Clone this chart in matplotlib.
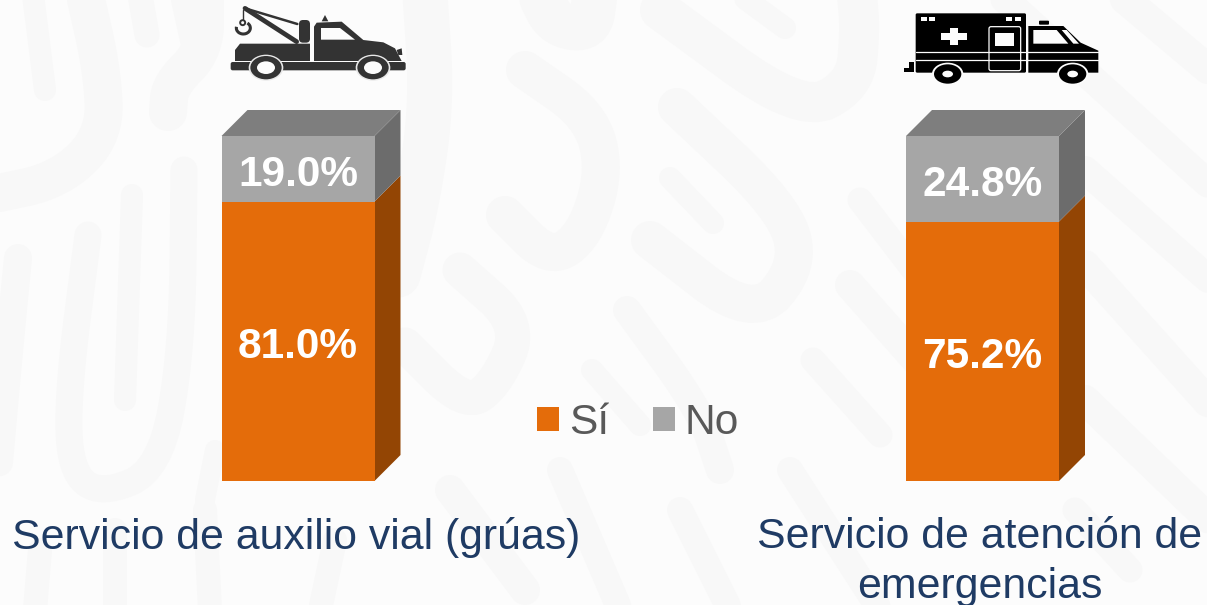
import numpy as np
import matplotlib
matplotlib.use("Agg")
import matplotlib.pyplot as plt
from matplotlib.patches import Polygon, Ellipse, FancyBboxPatch, Arc
from matplotlib.transforms import Affine2D

categories = ["Servicio de auxilio vial (grúas)", "Servicio de atención de\nemergencias"]
si_values = [81.0, 75.2]
no_values = [19.0, 24.8]
series_names = ["Sí", "No"]

ORANGE, GREY = "#E46C0A", "#A6A6A6"
ORANGE_SIDE, GREY_SIDE = "#934504", "#6C6C6C"
GREY_TOP = "#7E7E7E"
BG, MOTIF = "#FCFCFC", "#F8F8F8"
W, H = 1207, 605
plt.rcParams["font.family"] = ["Liberation Sans", "DejaVu Sans"]

fig = plt.figure(figsize=(W / 100, H / 100), dpi=100, facecolor=BG)
ax = fig.add_axes([0, 0, 1, 1])
ax.set_facecolor("none")
sx, sy = 684.5, 3.45
ax.set_xlim(-298 / sx, (W - 298) / sx)
ax.set_ylim((481 - H) / sy, 481 / sy)
ax.axis("off")
px = Affine2D().scale(1 / W, -1 / H).translate(0, 1) + ax.transAxes


def smooth(pts, n=3):
    p = np.array(pts, float)
    for _ in range(n):
        q = 0.75 * p[:-1] + 0.25 * p[1:]
        r = 0.25 * p[:-1] + 0.75 * p[1:]
        m = np.empty((2 * len(q), 2))
        m[0::2], m[1::2] = q, r
        p = np.vstack([p[0], m, p[-1]])
    return p


# faint background motif: (stroke width in px, stroke path)
motif = [
    (22, [(33, -5), (45, 90)]), (25, [(140, -5), (147, 35)]),
    (38, [(85, -5), (102, 70), (105, 135), (60, 180), (-10, 195)]),
    (38, [(205, -5), (205, 50), (170, 85), (168, 112)]), (30, [(185, -5), (195, 40)]),
    (28, [(18, 258), (10, 340), (0, 450), (-5, 510)]), (22, [(132, 195), (125, 400)]),
    (27, [(88, 235), (68, 390), (70, 470), (100, 495), (160, 470), (182, 350), (184, 170)]),
    (20, [(215, 450), (205, 500)]), (45, [(425, -5), (432, 100), (418, 200), (398, 275)]),
    (45, [(540, -5), (555, 25), (590, 30), (595, -5)]),
    (38, [(525, 70), (590, 115), (605, 170), (585, 235), (550, 260), (505, 215)]),
    (40, [(660, 10), (800, 113), (855, 85), (860, 30), (857, -5)]), (22, [(740, -5), (785, 28)]),
    (38, [(677, 107), (783, 207), (800, 265), (753, 320), (650, 240)]), (22, [(670, 178), (713, 223)]),
    (35, [(460, 270), (522, 325), (495, 385), (465, 405), (405, 345)]), (28, [(627, 310), (700, 410), (720, 470)]),
    (22, [(592, 370), (640, 425)]), (25, [(860, 200), (925, 285)]), (30, [(850, 285), (925, 370)]),
    (25, [(813, 360), (880, 435)]), (30, [(1120, -5), (1215, 75)]), (28, [(1000, -5), (1215, 190)]),
    (28, [(1085, 170), (1215, 285)]), (30, [(1085, 265), (1215, 410)]), (30, [(1085, 400), (1215, 525)]),
    (25, [(1075, 510), (1130, 570)]), (24, [(40, 550), (35, 610)]), (24, [(115, 530), (115, 610)]),
    (24, [(205, 510), (210, 610)]), (24, [(335, 540), (320, 610)]), (30, [(450, 490), (525, 590)]),
    (26, [(560, 470), (620, 610)]), (26, [(680, 510), (730, 610)]), (26, [(790, 470), (880, 610)]),
]
for lw, pts in motif:
    s = smooth(pts)
    ax.plot(s[:, 0], s[:, 1], color=MOTIF, lw=lw * 0.72, transform=px, zorder=0,
            solid_capstyle="round", solid_joinstyle="round")

# bars
x = np.arange(len(categories))
bw = 153 / sx
dx, dy = 26 / sx, 26 / sy
h1 = ax.bar(x, si_values, bw, color=ORANGE, label=series_names[0], zorder=3)
h2 = ax.bar(x, no_values, bw, bottom=si_values, color=GREY, label=series_names[1], zorder=3)
LAB_SHIFT = -1.7
for xi, si, no in zip(x, si_values, no_values):
    r = xi + bw / 2
    l = xi - bw / 2
    top = si + no
    ax.add_patch(Polygon([(r, 0), (r + dx, dy), (r + dx, si + dy), (r, si)], fc=ORANGE_SIDE, ec="none", zorder=2))
    ax.add_patch(Polygon([(r, si), (r + dx, si + dy), (r + dx, top + dy), (r, top)], fc=GREY_SIDE, ec="none", zorder=2))
    ax.add_patch(Polygon([(l, top), (r, top), (r + dx, top + dy), (l + dx, top + dy)], fc=GREY_TOP, ec="none", zorder=2))
    ax.text(xi, si / 2 + LAB_SHIFT, f"{si:.1f}%", color="white", fontsize=30.5, fontweight="bold", ha="center", va="center", zorder=4)
    ax.text(xi, si + no / 2 + LAB_SHIFT, f"{no:.1f}%", color="white", fontsize=30.5, fontweight="bold", ha="center", va="center", zorder=4)

# category labels
TXT = "#1F3B64"
ax.text(-1.5 / sx, -16.3, categories[0], color=TXT, fontsize=30.75, ha="center", va="center", zorder=4)
ax.text(1 - 3 / sx, -16.3, categories[1].split("\n")[0], color=TXT, fontsize=30.75, ha="center", va="center", zorder=4)
ax.text(1 - 3 / sx, -30.6, categories[1].split("\n")[1], color=TXT, fontsize=30.75, ha="center", va="center", zorder=4)

leg = ax.legend(handles=[h1, h2], loc="center", bbox_to_anchor=(638 / W, 1 - 423 / H), ncol=2, frameon=False,
                fontsize=30.6, handlelength=0.52, handleheight=0.5, handletextpad=0.24, columnspacing=1.02,
                labelcolor="#595959")


# icons
def zp(pts, ox):
    return [(ox + a / 3, b / 3) for a, b in pts]


def poly(pts, ox, fc):
    ax.add_patch(Polygon(zp(pts, ox), fc=fc, ec="none", transform=px, zorder=5))


def rrect(x0, y0, x1, y1, ox, fc, rad=3):
    ax.add_patch(FancyBboxPatch((ox + x0 / 3 + rad, y0 / 3 + rad), (x1 - x0) / 3 - 2 * rad, (y1 - y0) / 3 - 2 * rad,
                                boxstyle=f"round,pad={rad}", fc=fc, ec="none", transform=px, zorder=5))


def wheel(cx, cy, ox, dark, outer, tyre, hub, edge):
    for (w, h), c, z in [(outer, edge, 6), (tyre, dark, 6), (hub, BG, 7)]:
        ax.add_patch(Ellipse((ox + cx / 3, cy / 3), 2 * w / 3, 2 * h / 3, fc=c, ec="none", transform=px, zorder=z))


def seg(pts, ox, c, lw, z=5):
    a = zp(pts, ox)
    ax.plot([p[0] for p in a], [p[1] for p in a], color=c, lw=lw, transform=px, zorder=z, solid_capstyle="round")


D = "#333333"
o = 200
poly([(105, 150), (120, 131), (330, 131), (330, 183), (105, 183)], o, D)
rrect(92, 186, 617, 211, o, D, 2)
poly([(342, 80), (350, 68), (425, 65), (490, 120), (550, 127), (585, 145), (605, 183), (342, 183)], o, D)
poly([(363, 84), (420, 84), (465, 119), (363, 119)], o, BG)
rrect(297, 60, 330, 128, o, D, 4)
poly([(365, 64), (375, 45), (385, 64)], o, D)
poly([(590, 150), (605, 145), (607, 165), (595, 165)], o, D)
seg([(135, 25), (290, 125)], o, D, 3.4)
seg([(135, 25), (292, 72)], o, D, 1.8)
seg([(130, 30), (130, 58)], o, D, 1.0)
ax.add_patch(Arc((o + 130 / 3, 84 / 3), 14, 12, theta1=-50, theta2=190, ec=D, lw=2.2, transform=px, zorder=5))
ax.add_patch(Ellipse((o + 128 / 3, 68 / 3), 5, 5, fc="none", ec=D, lw=1.4, transform=px, zorder=5))
for c in [198, 519]:
    wheel(c, 203, o, D, (52, 39), (47, 35), (27, 19), "#E8E8E8")

o = 890
K = "#000000"
rrect(77, 40, 408, 218, o, K, 1.5)
poly([(415, 78), (520, 78), (572, 128), (625, 152), (625, 218), (415, 218)], o, K)
poly([(430, 90), (500, 90), (535, 131), (430, 131)], o, BG)
poly([(515, 90), (530, 90), (567, 131), (550, 131)], o, BG)
rrect(447, 62, 477, 74, o, K, 1)
for a, b in [(93, 110), (118, 135), (348, 365), (375, 392)]:
    poly([(a, 52), (b, 52), (b, 64), (a, 64)], o, BG)
poly([(180, 85), (204, 85), (204, 98), (230, 98), (230, 120), (204, 120), (204, 136), (180, 136), (180, 120),
      (154, 120), (154, 98), (180, 98)], o, BG)
poly([(316, 98), (372, 98), (372, 137), (316, 137)], o, BG)
ax.add_patch(FancyBboxPatch((o + 297 / 3, 80 / 3), 95 / 3, 132 / 3, boxstyle="round,pad=0,rounding_size=2",
                            fc="none", ec=BG, lw=0.9, transform=px, zorder=6))
for yy in [155, 180]:
    seg([(77, yy), (625, yy)], o, BG, 0.9, 5.5)
poly([(42, 205), (58, 205), (58, 185), (72, 185), (72, 215), (42, 215)], o, K)
for c in [173, 548]:
    wheel(c, 222, o, K, (47, 34), (41, 29), (16, 10), BG)

fig.savefig("out.png", dpi=100, facecolor=fig.get_facecolor())
